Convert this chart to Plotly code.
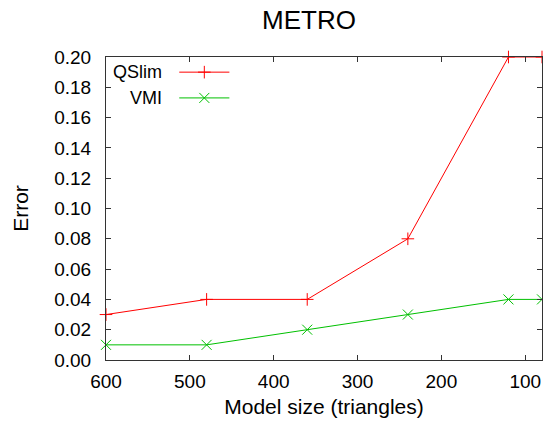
import plotly.graph_objects as go

# Model sizes (triangles) and METRO error per simplification method
sizes = [600, 480, 360, 240, 120, 80]
qslim_err = [0.03, 0.04, 0.04, 0.08, 0.20, 0.20]
vmi_err = [0.01, 0.01, 0.02, 0.03, 0.04, 0.04]

series_names = ["QSlim", "VMI"]
series_colors = ["#ff0000", "#00c000"]
series_symbols = ["cross-thin", "x-thin"]
series_sizes = [9, 10]

FONT = "Liberation Sans, Arial, Helvetica, sans-serif"

fig = go.Figure()

for name, ys, color, sym, ms in zip(series_names, [qslim_err, vmi_err], series_colors,
                                    series_symbols, series_sizes):
    fig.add_trace(go.Scatter(
        x=sizes, y=ys, mode="lines+markers", name=name,
        line=dict(color=color, width=1),
        marker=dict(symbol=sym, size=ms, line=dict(color=color, width=1)),
        cliponaxis=False, showlegend=False,
    ))

# Key in the top-left corner: label on the left, sample line with marker on the right
key_y = [0.95, 0.865]
for name, color, sym, ms, ky in zip(series_names, series_colors, series_symbols,
                                    series_sizes, key_y):
    fig.add_trace(go.Scatter(
        x=[0.168, 0.283], y=[ky, ky], mode="lines", xaxis="x2", yaxis="y2",
        line=dict(color=color, width=1), showlegend=False, hoverinfo="skip",
    ))
    fig.add_trace(go.Scatter(
        x=[0.2255], y=[ky], mode="markers", xaxis="x2", yaxis="y2",
        marker=dict(symbol=sym, size=ms, line=dict(color=color, width=1)),
        showlegend=False, hoverinfo="skip",
    ))
    fig.add_annotation(
        x=0.133, y=ky, xref="x2", yref="y2", text=name, showarrow=False,
        xanchor="right", yanchor="middle", font=dict(family=FONT, size=18, color="black"),
    )

axis_common = dict(
    showline=True, linecolor="#333333", linewidth=1, mirror="allticks",
    ticks="inside", ticklen=5, tickcolor="#333333", showgrid=False, zeroline=False,
    tickfont=dict(family=FONT, size=19, color="black"),
)

fig.update_layout(
    width=543, height=426,
    margin=dict(l=106, r=1, t=57, b=66),
    paper_bgcolor="white", plot_bgcolor="white",
    title=dict(text="METRO", x=0.569, xanchor="center", y=0.953, yanchor="middle",
               font=dict(family=FONT, size=26, color="black")),
    xaxis=dict(range=[600, 80], tickvals=[600, 500, 400, 300, 200, 100],
               ticklabelstandoff=4,
               title=dict(text="Model size (triangles)", font=dict(family=FONT, size=21, color="black"),
                          standoff=8),
               **axis_common),
    yaxis=dict(range=[0, 0.2], dtick=0.02, tickformat=".2f",
               ticklabelstandoff=10,
               title=dict(text="Error", font=dict(family=FONT, size=21, color="black"), standoff=19),
               **axis_common),
    xaxis2=dict(range=[0, 1], overlaying="x", visible=False),
    yaxis2=dict(range=[0, 1], overlaying="y", visible=False),
)

fig.write_html("out.html")
